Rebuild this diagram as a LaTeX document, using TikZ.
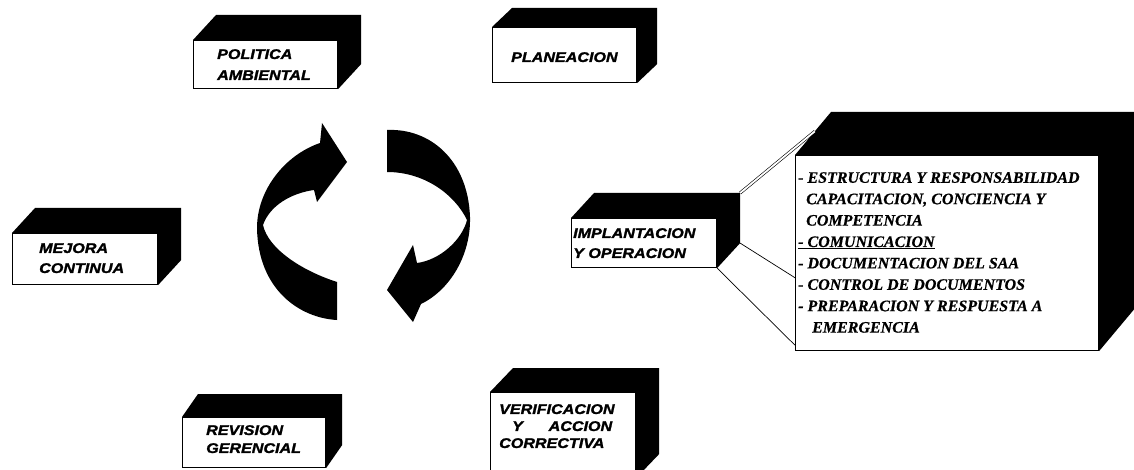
\documentclass[tikz,border=0pt]{standalone}
\usepackage{fontspec}
\setmainfont{Liberation Serif}[BoldItalicFeatures={FakeBold=0.6}]
\newfontfamily\boxfont[FakeStretch=1.15, BoldItalicFeatures={FakeBold=1.6}]{Liberation Sans}
\usetikzlibrary{calc}

% black top and right faces of a block whose front face is node #1, depth (#2,#3)
\newcommand\solidblock[3]{%
  \fill[black] (#1.north west) -- ++(#2,#3) -- ($(#1.north east)+(#2,#3)$)
    -- ($(#1.south east)+(#2,#3)$) -- (#1.south east) -- (#1.north east) -- cycle;}

\begin{document}
\begin{tikzpicture}[x=1pt,y=-1pt,
  face/.style={draw, fill=white, line width=1.1pt, inner sep=0pt, anchor=north west},
  boxlabel/.style={font=\boxfont\bfseries\itshape\fontsize{14}{#1}\selectfont,
    align=left, inner sep=0pt, anchor=north west},
  boxlabel/.default=20,
  listtext/.style={font=\rmfamily\bfseries\itshape\fontsize{16}{21.4}\selectfont,
    align=left, inner sep=0pt, anchor=north west},
  link/.style={line width=0.7pt},
  ringarrow/.style={fill=black}]
\useasboundingbox (0,0) rectangle (1134,470);

% circular arrows
\fill[ringarrow] (337,282) -- (337,320)
  .. controls (300,318) and (258,290) .. (257,228)
  .. controls (257,190) and (285,155) .. (320,143)
  -- (322,123) -- (347,162) -- (317,202) -- (314,190)
  .. controls (292,193) and (270,205) .. (263,225)
  .. controls (268,248) and (300,270) .. (337,282) -- cycle;
\fill[ringarrow] (387,130)
  .. controls (430,128) and (468,160) .. (470,217)
  .. controls (471,255) and (450,290) .. (421,304)
  -- (413,322) -- (387,290) -- (413,245) -- (417,263)
  .. controls (440,260) and (462,240) .. (467,220)
  .. controls (455,195) and (425,172) .. (387,172) -- cycle;

% blocks
\node[face, minimum width=144pt, minimum height=48pt] (pol) at (193,40) {};
\solidblock{pol}{23}{-25}
\node[boxlabel=21] (polT) at (217,49) {POLITICA\\AMBIENTAL};

\node[face, minimum width=144pt, minimum height=55pt] (plan) at (492,27) {};
\solidblock{plan}{20}{-19}
\node[boxlabel] (planT) at (511,52) {PLANEACION};

\node[face, minimum width=145pt, minimum height=51pt] (mej) at (12,233) {};
\solidblock{mej}{23}{-25}
\node[boxlabel=20] (mejT) at (39,243) {MEJORA\\CONTINUA};

\node[face, minimum width=145pt, minimum height=49pt] (impl) at (571,218) {};
\solidblock{impl}{23}{-25}
\node[boxlabel=20] (implT) at (573,228) {IMPLANTACION\\Y OPERACION};

\node[face, minimum width=143pt, minimum height=50pt] (rev) at (182,417) {};
\solidblock{rev}{16}{-23}
\node[boxlabel=18] (revT) at (206,425) {REVISION\\GERENCIAL};

\node[face, minimum width=145pt, minimum height=85pt] (ver) at (490,392) {};
\solidblock{ver}{23}{-24}
\node[boxlabel=17, text width=113pt] (verT) at (499,404)
  {VERIFICACION\\\hspace*{13pt}Y\hfill ACCION\\CORRECTIVA};

\node[face, minimum width=303pt, minimum height=195pt] (big) at (795,155) {};
\solidblock{big}{36}{-43}
\node[listtext] (bigT) at (798,172) {%
  - ESTRUCTURA Y RESPONSABILIDAD\\
  \hspace*{8pt}CAPACITACION, CONCIENCIA Y\\
  \hspace*{8pt}COMPETENCIA\\
  \underline{- COMUNICACION}\\
  - DOCUMENTACION DEL SAA\\
  - CONTROL DE DOCUMENTOS\\
  - PREPARACION Y RESPUESTA A\\
  \hspace*{14pt}EMERGENCIA};

% connectors from the operation block to its detail block
\coordinate (implBackTop) at ($(impl.north east)+(23,-25)$);
\coordinate (implBackBot) at ($(impl.south east)+(23,-25)$);
\coordinate (bigBack) at ($(big.north west)+(36,-43)$);
\coordinate (bigBevel) at ($(big.north west)!0.55!(bigBack)$);
\coordinate (bigIn1) at ($(big.north west)!0.626!(big.south west)$);
\coordinate (bigIn2) at ($(big.north west)!0.97!(big.south west)$);
\draw[link, double, double distance=1.8pt, line width=0.6pt] (implBackTop) -- (bigBevel);
\draw[link] (implBackBot) -- (bigIn1);
\draw[link] (impl.south east) -- (bigIn2);
\end{tikzpicture}
\end{document}
